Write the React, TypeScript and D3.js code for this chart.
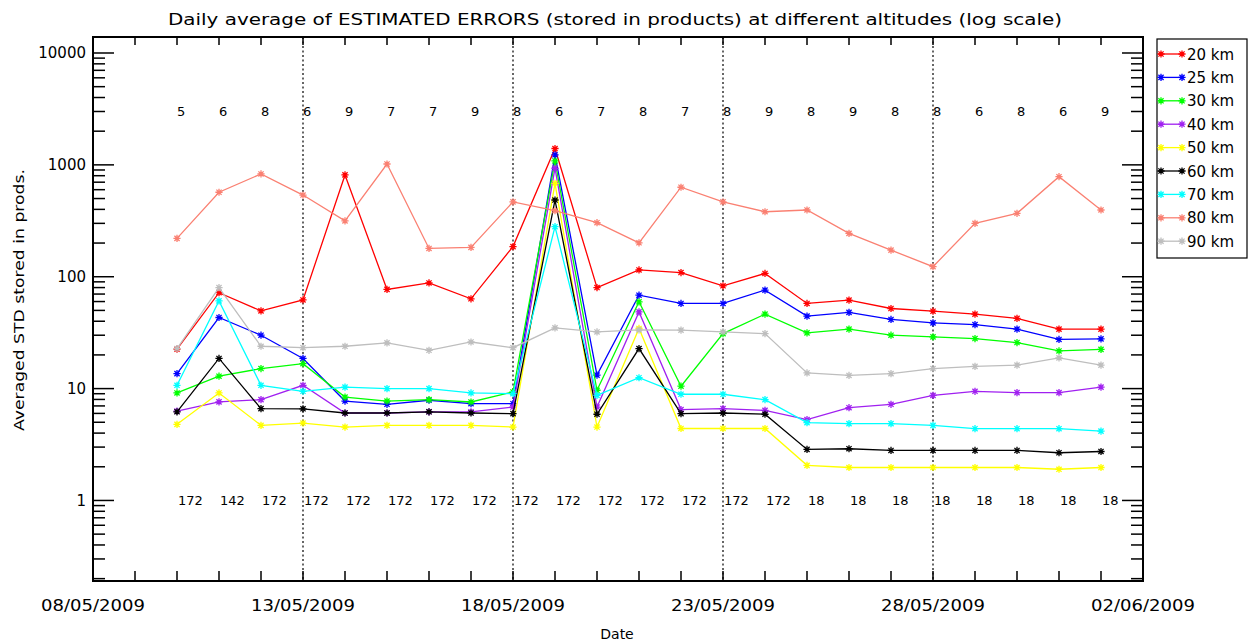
import React from "react";
import * as d3 from "d3";

const dates = [
  "2009-05-10", "2009-05-11", "2009-05-12", "2009-05-13", "2009-05-14", "2009-05-15",
  "2009-05-16", "2009-05-17", "2009-05-18", "2009-05-19", "2009-05-20", "2009-05-21",
  "2009-05-22", "2009-05-23", "2009-05-24", "2009-05-25", "2009-05-26", "2009-05-27",
  "2009-05-28", "2009-05-29", "2009-05-30", "2009-05-31", "2009-06-01",
];

const km20 = [22.5, 72, 49.5, 62, 813, 77, 88, 63.5, 186, 1400, 80, 115, 109, 83, 107, 57.7, 61.8, 52, 49.2, 46.3, 42.4, 34, 34];
const km25 = [13.6, 43.2, 30, 18.6, 7.74, 7.24, 7.87, 7.33, 7.33, 1230, 13.2, 68.4, 57.7, 57.7, 75.9, 44.4, 48, 41.5, 38.7, 37.3, 34, 27.5, 27.8];
const km30 = [9.14, 12.9, 15.1, 16.7, 8.4, 7.74, 7.96, 7.59, 9.33, 1084, 9.66, 59.7, 10.5, 31, 46.3, 31.5, 34, 30, 29, 28, 25.8, 21.7, 22.4];
const km40 = [6.3, 7.6, 7.96, 10.7, 6.05, 6.05, 6.2, 6.2, 6.84, 933, 6.84, 48.5, 6.49, 6.62, 6.38, 5.28, 6.75, 7.24, 8.7, 9.46, 9.2, 9.2, 10.3];
const km50 = [4.79, 9.14, 4.69, 4.92, 4.53, 4.69, 4.69, 4.69, 4.53, 684, 4.53, 34.5, 4.4, 4.4, 4.4, 2.06, 1.97, 1.97, 1.97, 1.97, 1.97, 1.9, 1.97];
const km60 = [6.2, 18.6, 6.62, 6.6, 6.05, 6.05, 6.2, 6.05, 5.97, 485, 5.9, 22.8, 5.97, 6.05, 5.9, 2.86, 2.9, 2.8, 2.8, 2.8, 2.8, 2.67, 2.74];
const km70 = [10.7, 60.8, 10.7, 9.46, 10.3, 10.0, 10.0, 9.14, 9.0, 280, 8.7, 12.5, 8.9, 8.9, 7.96, 4.96, 4.86, 4.86, 4.69, 4.38, 4.38, 4.38, 4.17];
const km80 = [220, 569, 829, 537, 316, 1018, 179, 183, 467, 389, 304, 201, 631, 467, 381, 395, 244, 173, 123, 300, 369, 784, 395];
const km90 = [22.8, 80, 23.9, 23.2, 23.9, 25.6, 22, 26.1, 23.2, 34.9, 32.1, 33.5, 33.3, 32.1, 31, 13.8, 13.1, 13.6, 15.1, 15.8, 16.2, 18.8, 16.2];

const seriesNames = ["20 km", "25 km", "30 km", "40 km", "50 km", "60 km", "70 km", "80 km", "90 km"];
const seriesColors = ["#ff0000", "#0000ff", "#00ff00", "#a020f0", "#ffff00", "#000000", "#00ffff", "#fa8072", "#bebebe"];
const seriesValues = [km20, km25, km30, km40, km50, km60, km70, km80, km90];

const topCounts = [5, 6, 8, 6, 9, 7, 7, 9, 8, 6, 7, 8, 7, 8, 9, 8, 9, 8, 8, 6, 8, 6, 9];
const bottomCounts = [172, 142, 172, 172, 172, 172, 172, 172, 172, 172, 172, 172, 172, 172, 172, 18, 18, 18, 18, 18, 18, 18, 18];

const xLabelDates = ["2009-05-08", "2009-05-13", "2009-05-18", "2009-05-23", "2009-05-28", "2009-06-02"];
const xLabels = ["08/05/2009", "13/05/2009", "18/05/2009", "23/05/2009", "28/05/2009", "02/06/2009"];
const dottedDates = ["2009-05-13", "2009-05-18", "2009-05-23", "2009-05-28"];
const yMajor = [1, 10, 100, 1000, 10000];
const yLabels = ["1", "10", "100", "1000", "10000"];

const TITLE = "Daily average of ESTIMATED ERRORS (stored in products) at different altitudes (log scale)";
const FONT = "DejaVu Sans, sans-serif";

const W = 1249, H = 643;
const L = 93, R = 1143, T = 37, B = 581;

const parse = (s: string) => new Date(s + "T00:00:00Z");

export default function App() {
  const x = d3.scaleUtc().domain([parse("2009-05-08"), parse("2009-06-02")]).range([L, R]);
  const y = d3.scaleLog().domain([Math.pow(10, -0.72), Math.pow(10, 4.143)]).range([B, T]);

  const dayTicks = d3.utcDay.range(parse("2009-05-09"), parse("2009-06-02"));
  const minor: number[] = [];
  for (let e = -1; e <= 4; e++) {
    for (let k = 2; k <= 9; k++) {
      const v = k * Math.pow(10, e);
      const [d0, d1] = y.domain();
      if (v > d0 && v < d1) minor.push(v);
    }
  }

  const line = d3
    .line<number>()
    .x((_, i) => x(parse(dates[i])))
    .y((v) => y(v));

  const star = (cx: number, cy: number, r: number) => {
    const d = r * 0.72;
    return `M${cx - r},${cy}L${cx + r},${cy}M${cx},${cy - r}L${cx},${cy + r}M${cx - d},${cy - d}L${cx + d},${cy + d}M${cx - d},${cy + d}L${cx + d},${cy - d}`;
  };

  const legX0 = 1158, legX1 = 1184, legY0 = 54, legDy = 23.4;

  return (
    <svg width={W} height={H} style={{ position: "absolute", left: 0, top: 0, background: "#fff" }} fontFamily={FONT}>
      <rect x={0} y={0} width={W} height={H} fill="#fff" />
      <text x={615} y={25} fontSize={16} textAnchor="middle" textLength={894} lengthAdjust="spacingAndGlyphs">{TITLE}</text>

      {/* dotted vertical lines */}
      {dottedDates.map((d) => (
        <line key={d} x1={x(parse(d))} x2={x(parse(d))} y1={T} y2={B} stroke="#000" strokeWidth={1.2} strokeDasharray="2,2.5" />
      ))}

      {/* series */}
      {seriesValues.map((vals, si) => (
        <g key={seriesNames[si]}>
          <path d={line(vals) || ""} fill="none" stroke={seriesColors[si]} strokeWidth={1.3} />
          <path
            d={vals.map((v, i) => star(x(parse(dates[i])), y(v), 3.6)).join("")}
            fill="none"
            stroke={seriesColors[si]}
            strokeWidth={1.3}
          />
        </g>
      ))}

      {/* count labels */}
      {topCounts.map((c, i) => (
        <text key={"t" + i} x={x(parse(dates[i]))} y={y(3000) + 5} fontSize={13}>{c}</text>
      ))}
      {bottomCounts.map((c, i) => (
        <text key={"b" + i} x={x(parse(dates[i])) + 1} y={y(1) + 5} fontSize={13}>{c}</text>
      ))}

      {/* frame */}
      <rect x={L} y={T} width={R - L} height={B - T} fill="none" stroke="#000" strokeWidth={2} />

      {/* x ticks */}
      {dayTicks.map((d, i) => (
        <g key={"xt" + i}>
          <line x1={x(d)} x2={x(d)} y1={B} y2={B - 10} stroke="#000" strokeWidth={1.5} />
          <line x1={x(d)} x2={x(d)} y1={T} y2={T + 8} stroke="#000" strokeWidth={1.5} />
        </g>
      ))}
      {xLabelDates.map((d, i) => (
        <text key={"xl" + i} x={x(parse(d))} y={611} fontSize={15} textAnchor="middle" textLength={104} lengthAdjust="spacingAndGlyphs">
          {xLabels[i]}
        </text>
      ))}

      {/* y ticks */}
      {yMajor.map((v, i) => (
        <g key={"ym" + i}>
          <line x1={L} x2={L + 21} y1={y(v)} y2={y(v)} stroke="#000" strokeWidth={1.5} />
          <line x1={R} x2={R - 21} y1={y(v)} y2={y(v)} stroke="#000" strokeWidth={1.5} />
          <text x={86} y={y(v) + 5.5} fontSize={15} textAnchor="end">{yLabels[i]}</text>
        </g>
      ))}
      {minor.map((v, i) => (
        <g key={"yn" + i}>
          <line x1={L} x2={L + 12} y1={y(v)} y2={y(v)} stroke="#000" strokeWidth={1.5} />
          <line x1={R} x2={R - 12} y1={y(v)} y2={y(v)} stroke="#000" strokeWidth={1.5} />
        </g>
      ))}

      {/* axis titles */}
      <text x={617} y={639} fontSize={14} textAnchor="middle">Date</text>
      <text transform="translate(24,300) rotate(-90)" fontSize={14} textAnchor="middle" textLength={262} lengthAdjust="spacingAndGlyphs">
        Averaged STD stored in prods.
      </text>

      {/* legend */}
      <rect x={1157} y={39} width={90} height={219} fill="#fff" stroke="#000" strokeWidth={1.2} />
      {seriesNames.map((n, i) => {
        const ly = legY0 + i * legDy;
        return (
          <g key={"lg" + i}>
            <line x1={legX0} x2={legX1} y1={ly} y2={ly} stroke={seriesColors[i]} strokeWidth={1.3} />
            <path d={star(legX0 + 3, ly, 3.6) + star(legX1 - 2, ly, 3.6)} fill="none" stroke={seriesColors[i]} strokeWidth={1.3} />
            <text x={1187} y={ly + 5.5} fontSize={15}>{n}</text>
          </g>
        );
      })}
    </svg>
  );
}
